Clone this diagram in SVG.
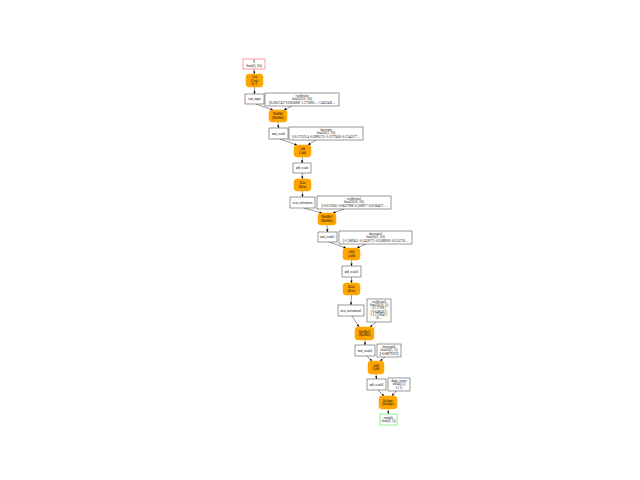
<svg xmlns="http://www.w3.org/2000/svg" width="640" height="480" viewBox="0 0 640 480">
<style>
text{font-family:"Liberation Serif","DejaVu Serif",serif;font-size:3px;fill:#000;text-anchor:middle}
.op{fill:#FFA500;stroke:#FFA500;stroke-width:0.5}
.bx{fill:#fff;stroke:#000;stroke-width:0.4}
.in{fill:#fff;stroke:#f00;stroke-width:0.4}
.out{fill:#fff;stroke:#0c0;stroke-width:0.4}
.e line{stroke:#000;stroke-width:0.4;marker-end:url(#ah)}
</style>
<defs>
<marker id="ah" markerUnits="userSpaceOnUse" markerWidth="3" markerHeight="3" refX="2.6" refY="1.2" orient="auto"><path d="M0,0 L2.6,1.2 L0,2.4 Z" fill="#000"/></marker>
</defs>
<rect width="640" height="480" fill="#fff"/>
<g id="connectors" class="e">
<line x1="254" y1="69" x2="254.5" y2="74"/>
<line x1="254.5" y1="87" x2="254.5" y2="94"/>
<line x1="256" y1="104" x2="273" y2="110"/>
<line x1="292" y1="106" x2="284" y2="110"/>
<line x1="278" y1="122" x2="278.5" y2="128"/>
<line x1="280" y1="139" x2="297" y2="145"/>
<line x1="316" y1="140" x2="308" y2="145"/>
<line x1="302.5" y1="157" x2="302" y2="163"/>
<line x1="302" y1="173" x2="302.5" y2="179"/>
<line x1="302.5" y1="191" x2="302.5" y2="197"/>
<line x1="304" y1="208" x2="322" y2="213"/>
<line x1="344" y1="209" x2="333" y2="213"/>
<line x1="327" y1="225" x2="327.5" y2="232"/>
<line x1="329" y1="242" x2="346" y2="248"/>
<line x1="366" y1="244" x2="357" y2="248"/>
<line x1="351.5" y1="260" x2="351.5" y2="266"/>
<line x1="351.5" y1="277" x2="351.5" y2="283"/>
<line x1="351.5" y1="295" x2="351" y2="305"/>
<line x1="352" y1="316" x2="359" y2="327"/>
<line x1="376" y1="322" x2="370" y2="327"/>
<line x1="365" y1="340" x2="365" y2="345"/>
<line x1="367" y1="356" x2="372" y2="361"/>
<line x1="385" y1="357" x2="380" y2="361"/>
<line x1="376" y1="374" x2="376.5" y2="379"/>
<line x1="378" y1="390" x2="384" y2="396"/>
<line x1="396" y1="391" x2="392" y2="396"/>
<line x1="388" y1="409" x2="388.5" y2="414"/>
</g>
<g id="X"><rect class="in" x="243" y="59" width="22" height="10"/><text x="254" y="63.3">X</text><text x="254" y="66.7">float((0, 10))</text></g>
<g id="Cast"><rect class="op" x="246" y="74" width="17" height="13" rx="3"/><text x="254.5" y="78.4">Cast</text><text x="254.5" y="81.5">(Cast)</text><text x="254.5" y="84.6">to=1</text></g>
<g id="cast_input"><rect class="bx" x="245" y="94" width="19" height="10"/><text x="254.5" y="100">cast_input</text></g>
<g id="coefficient"><rect class="bx" x="265" y="93" width="74" height="13"/><text x="302" y="97">coefficient</text><text x="302" y="100.3">float32((10, 10))</text><text x="302" y="103.6">[[0.20017437 0.03816089 -1.1776003 ... -1.4852438 ...</text></g>
<g id="MatMul"><rect class="op" x="269" y="110" width="18" height="12" rx="3"/><text x="278" y="115.2">MatMul</text><text x="278" y="118.6">(MatMul)</text></g>
<g id="mul_result"><rect class="bx" x="269" y="128" width="19" height="11"/><text x="278.5" y="134.5">mul_result</text></g>
<g id="intercepts"><rect class="bx" x="289" y="127" width="74" height="13"/><text x="326" y="131">intercepts</text><text x="326" y="134.3">float32((1, 10))</text><text x="326" y="137.6">[[-0.17212514 -0.28905731 -0.13779418 -0.17443577 ...</text></g>
<g id="Add"><rect class="op" x="294" y="145" width="17" height="12" rx="3"/><text x="302.5" y="150.2">Add</text><text x="302.5" y="153.6">(Add)</text></g>
<g id="add_result"><rect class="bx" x="293" y="163" width="18" height="10"/><text x="302" y="169">add_result</text></g>
<g id="Relu"><rect class="op" x="294" y="179" width="17" height="12" rx="3"/><text x="302.5" y="184.2">Relu</text><text x="302.5" y="187.6">(Relu)</text></g>
<g id="next_activations"><rect class="bx" x="290" y="197" width="25" height="11"/><text x="302.5" y="203.5">next_activations</text></g>
<g id="coefficient1"><rect class="bx" x="317" y="196" width="74" height="13"/><text x="354" y="200">coefficient1</text><text x="354" y="203.3">float32((10, 10))</text><text x="354" y="206.6">[[-0.0176565 -0.08527898 -0.1108077 -0.01384671 ...</text></g>
<g id="MatMul1"><rect class="op" x="318" y="213" width="18" height="12" rx="3"/><text x="327" y="218.2">MatMul1</text><text x="327" y="221.6">(MatMul)</text></g>
<g id="mul_result1"><rect class="bx" x="318" y="232" width="19" height="10"/><text x="327.5" y="238">mul_result1</text></g>
<g id="intercepts1"><rect class="bx" x="339" y="231" width="73" height="13"/><text x="375.5" y="235">intercepts1</text><text x="375.5" y="238.3">float32((1, 10))</text><text x="375.5" y="241.6">[[-1.3869451 -0.14320772 -0.31068182 -0.3552726 ...</text></g>
<g id="Add1"><rect class="op" x="343" y="248" width="17" height="12" rx="3"/><text x="351.5" y="253.2">Add1</text><text x="351.5" y="256.6">(Add)</text></g>
<g id="add_result1"><rect class="bx" x="342" y="266" width="19" height="11"/><text x="351.5" y="272.5">add_result1</text></g>
<g id="Relu1"><rect class="op" x="343" y="283" width="17" height="12" rx="3"/><text x="351.5" y="288.2">Relu1</text><text x="351.5" y="291.6">(Relu)</text></g>
<g id="next_activations1"><rect class="bx" x="338" y="305" width="26" height="11"/><text x="351" y="311.5">next_activations1</text></g>
<g id="coefficient2"><rect class="bx" x="367" y="299" width="24" height="23"/><text x="379" y="302.6">coefficient2</text><text x="379" y="305.9">float32((10, 1))</text><text x="379" y="309.2">[[1.17769   ]</text><text x="379" y="312.5">[-0.0486402 ]</text><text x="379" y="315.8">[-1.1759043 ]</text><text x="379" y="319.1">[0....</text></g>
<g id="MatMul2"><rect class="op" x="355" y="327" width="19" height="13" rx="3"/><text x="364.5" y="332.6">MatMul2</text><text x="364.5" y="336">(MatMul)</text></g>
<g id="mul_result2"><rect class="bx" x="355" y="345" width="20" height="11"/><text x="365" y="351.5">mul_result2</text></g>
<g id="intercepts2"><rect class="bx" x="377" y="344" width="24" height="13"/><text x="389" y="348">intercepts2</text><text x="389" y="351.3">float32((1, 1))</text><text x="389" y="354.6">[[-0.08879222]]</text></g>
<g id="Add2"><rect class="op" x="368" y="361" width="16" height="13" rx="3"/><text x="376" y="366.6">Add2</text><text x="376" y="370">(Add)</text></g>
<g id="add_result2"><rect class="bx" x="367" y="379" width="19" height="11"/><text x="376.5" y="385.5">add_result2</text></g>
<g id="shape_tensor"><rect class="bx" x="388" y="378" width="22" height="13"/><text x="399" y="382">shape_tensor</text><text x="399" y="385.3">int64((2,))</text><text x="399" y="388.6">[-1  1]</text></g>
<g id="Reshape"><rect class="op" x="379" y="396" width="18" height="13" rx="3"/><text x="388" y="401.6">Reshape</text><text x="388" y="405">(Reshape)</text></g>
<g id="variable"><rect class="out" x="380" y="414" width="17" height="11"/><text x="388.5" y="418.5">variable</text><text x="388.5" y="421.9">float((0, 1))</text></g>
</svg>
